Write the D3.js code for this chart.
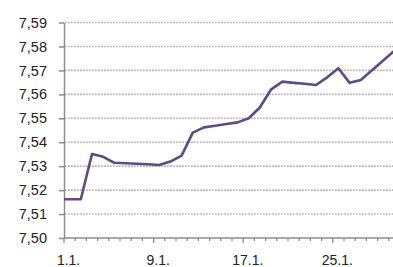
<!DOCTYPE html>
<html>
<head>
<meta charset="utf-8">
<script src="https://cdn.jsdelivr.net/npm/d3@7"></script>
<style>
  body { margin: 0; background: #fff; }
  svg { display: block; font-family: "Liberation Sans", Arial, sans-serif; }
</style>
</head>
<body>
<script>
const width = 393, height = 267;

// day of January (0 = 31.12.)
const days = [0,1,2,3,4,5,6,7,8,9,10,11,12,13,14,15,16,17,18,19,20,21,22,23,24,25,26,27,28,29,30];
const rates = [7.5162,7.5162,7.5162,7.5351,7.5339,7.5314,7.5312,7.5310,7.5308,7.5305,7.5319,7.5344,
  7.5440,7.5462,7.5469,7.5476,7.5483,7.5500,7.5546,7.5621,7.5653,7.5648,7.5644,7.5639,7.5671,
  7.5709,7.5648,7.5660,7.5701,7.5741,7.5782];

const yTicks = [7.50,7.51,7.52,7.53,7.54,7.55,7.56,7.57,7.58,7.59];
const xLabelDays = [1, 9, 17, 25];
const xLabels = ["1.1.", "9.1.", "17.1.", "25.1."];

const plotLeft = 64, plotTop = 22.5, plotBottom = 238;
const dayWidth = 11.2;

const x = d3.scaleLinear()
  .domain([0.5, 31.5])
  .range([plotLeft, plotLeft + 31 * dayWidth]);

const y = d3.scaleLinear()
  .domain([7.50, 7.59])
  .range([plotBottom, plotTop]);

const svg = d3.select("body").append("svg")
  .attr("width", width)
  .attr("height", height);

svg.append("defs").append("clipPath")
  .attr("id", "plot")
  .append("rect")
  .attr("x", plotLeft)
  .attr("y", 0)
  .attr("width", width - plotLeft)
  .attr("height", plotBottom);

// dotted gridlines
svg.append("g")
  .selectAll("line")
  .data(yTicks.slice(1))
  .join("line")
  .attr("x1", plotLeft + 1)
  .attr("x2", width)
  .attr("y1", d => y(d))
  .attr("y2", d => y(d))
  .attr("stroke", "#b4b4b4")
  .attr("stroke-width", 1.6)
  .attr("stroke-dasharray", "1.7,1.3");

// y axis
const yAxis = svg.append("g")
  .attr("transform", `translate(${plotLeft},0)`)
  .call(d3.axisLeft(y).tickValues(yTicks).tickSize(5).tickSizeOuter(0)
    .tickFormat(d => d3.format(".2f")(d).replace(".", ",")));
yAxis.select(".domain").attr("stroke", "#8c8c8c").attr("stroke-width", 1.5);
yAxis.selectAll(".tick line").attr("stroke", "#8c8c8c").attr("stroke-width", 1.5);
yAxis.selectAll(".tick text")
  .attr("x", -17)
  .attr("fill", "#222")
  .style("font-size", "14.5px");

// x axis: minor ticks each day boundary, major every 8 days
const boundaries = d3.range(0.5, 32, 1);
svg.append("line")
  .attr("x1", plotLeft)
  .attr("x2", width)
  .attr("y1", plotBottom)
  .attr("y2", plotBottom)
  .attr("stroke", "#8c8c8c")
  .attr("stroke-width", 1.5);

svg.append("g")
  .selectAll("line")
  .data(boundaries)
  .join("line")
  .attr("x1", d => x(d))
  .attr("x2", d => x(d))
  .attr("y1", plotBottom)
  .attr("y2", d => (d - 0.5) % 8 === 0 ? plotBottom + 5 : plotBottom + 3)
  .attr("stroke", "#8c8c8c")
  .attr("stroke-width", 1.3);

svg.append("g")
  .selectAll("text")
  .data(xLabelDays)
  .join("text")
  .attr("x", d => x(d) - 1)
  .attr("y", 265)
  .attr("text-anchor", "middle")
  .attr("fill", "#222")
  .style("font-size", "14px")
  .text((d, i) => xLabels[i]);

// the rate line
const line = d3.line()
  .x((d, i) => x(days[i]))
  .y(d => y(d));

svg.append("path")
  .datum(rates)
  .attr("clip-path", "url(#plot)")
  .attr("fill", "none")
  .attr("stroke", "#5d4a86")
  .attr("stroke-width", 2.6)
  .attr("stroke-linejoin", "round")
  .attr("d", line);
</script>
</body>
</html>
